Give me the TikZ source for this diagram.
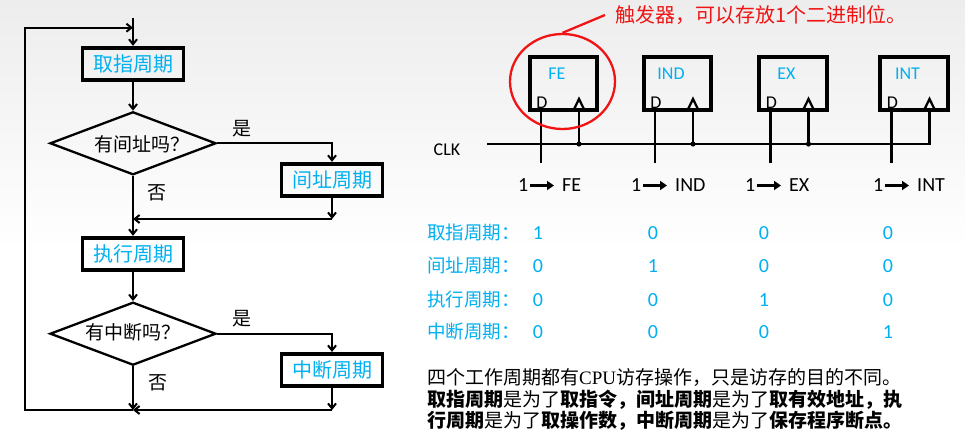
\documentclass[tikz,border=0pt]{standalone}
\usepackage{fontspec}
\setmainfont{Carlito}
\newfontfamily\cjk{Noto Sans CJK SC}
\newfontfamily\cpufont{Liberation Serif}
\usetikzlibrary{arrows.meta,shapes.geometric,calc}
\definecolor{lblue}{RGB}{0,176,240}
\definecolor{bggray}{RGB}{237,237,237}
\definecolor{redc}{RGB}{240,20,20}
\begin{document}
\begin{tikzpicture}[x=1pt,y=-1pt,
  flow/.style={draw,line width=3.7pt,minimum width=101pt,minimum height=32pt,inner sep=0pt,
    font=\cjk\fontsize{20}{20}\selectfont,text=lblue},
  dia/.style={draw,diamond,line width=2.3pt,minimum width=166pt,minimum height=63pt,inner sep=0pt},
  conn/.style={line width=2pt,-{Straight Barb[length=5pt,width=8pt]}},
  cjktxt/.style={inner sep=0pt,font=\cjk\fontsize{19}{19}\selectfont},
  ffbox/.style={draw,line width=3.7pt,minimum width=67.5pt,minimum height=53.5pt,inner sep=0pt},
  fflab/.style={inner sep=0pt,text=lblue,font=\fontsize{18}{18}\selectfont},
  dlab/.style={inner sep=0pt,font=\fontsize{18}{18}\selectfont},
  wire/.style={line width=2.3pt},
  outlab/.style={inner sep=0pt,anchor=west,font=\fontsize{20}{20}\selectfont},
  setarrow/.style={line width=2.6pt,-{Triangle[length=7pt,width=9pt]},shorten <=1.5pt,shorten >=8pt},
  tablab/.style={inner sep=0pt,anchor=west,text=lblue,font=\cjk\fontsize{18.5}{18.5}\selectfont},
  tabval/.style={inner sep=0pt,text=lblue,font=\fontsize{20}{20}\selectfont},
  para/.style={inner sep=0pt,anchor=west,font=\cjk\fontsize{19}{19}\selectfont}
]
\useasboundingbox (0,0) rectangle (965,446);
\fill[white] (0,0) rectangle (965,446);
\shade[top color=bggray,bottom color=white] (0,0) rectangle (965,250);

% ---------------- flowchart ----------------
\node[flow] (b1) at (133,63.7) {取指周期};
\node[dia] (d1) at (133,143.3) {};
\node[cjktxt] (d1t) at (142,144) {有间址吗？};
\node[flow] (b2) at (332,179.7) {间址周期};
\node[flow] (b3) at (133,253.7) {执行周期};
\node[dia] (d2) at (133,333.7) {};
\node[cjktxt] (d2t) at (132.5,332) {有中断吗？};
\node[flow] (b4) at (332,369.8) {中断周期};

\node[cjktxt] (yes1) at (241.7,128.3) {是};
\node[cjktxt] (no1) at (156.7,192.7) {否};
\node[cjktxt] (yes2) at (241.7,318.3) {是};
\node[cjktxt] (no2) at (158.3,382.7) {否};

\coordinate (start) at (133,18.3);
\coordinate (looptop) at (133,27.7);
\coordinate (looptl) at (25,27.7);
\coordinate (loopbl) at (25,410);
\coordinate (merge1) at (133,219);
\coordinate (c1) at (332,219);
\coordinate (y1) at (332,143.3);
\coordinate (y2) at (332,333.7);
\coordinate (c2) at (332,410);
\coordinate (merge2) at (133,410);

\draw[conn] (start) -- (b1.north);
\draw[conn] (merge2) -- (loopbl) -- (looptl) -- (looptop);
\draw[conn] (b1.south) -- (d1.north);
\draw[conn] (d1.east) -- (y1) -- (b2.north);
\draw[conn] (b2.south) -- (c1);
\draw[conn] (c1) -- (merge1);
\draw[conn] (d1.south) -- (b3.north);
\draw[conn] (b3.south) -- (d2.north);
\draw[conn] (d2.east) -- (y2) -- (b4.north);
\draw[conn] (b4.south) -- (c2);
\draw[conn] (c2) -- (merge2);
\draw[conn] (d2.south) -- (merge2);

% ---------------- flip-flops ----------------
\foreach \n/\cx/\lab in {fe/563.5/FE, ind/677.5/IND, ex/793/EX, int/914/INT}{
  \node[ffbox] (\n) at (\cx,83.5) {};
  \node[fflab] (\n-name) at (\cx-6.5,74) {\lab};
  \node[dlab] (\n-D) at (\cx-21.5,103) {D};
  \coordinate (\n-dtop) at (\cx-22.5,110.25);
  \coordinate (\n-dbot) at (\cx-22.5,163);
  \coordinate (\n-ctop) at (\cx+15.5,110.25);
  \coordinate (\n-clk) at (\cx+15.5,144);
  \draw[wire] (\n-dtop) -- (\n-dbot);
  \draw[wire] (\n-ctop) -- (\n-clk);
  \draw[wire,line join=miter] (\cx+10,110.25) -- (\cx+15.5,99) -- (\cx+21,110.25);
}
\coordinate (clkstart) at (487,144);
\draw[wire] (clkstart) -- (int-clk) -- (int-ctop);
\foreach \n in {fe,ind,ex}{\fill (\n-clk) circle (2.6);}
\node[dlab] (clk) at (447,150) {CLK};

% 1 -> X labels
\foreach \n/\sx/\lab in {fe/518/FE, ind/631/IND, ex/745/EX, int/873/INT}{
  \node[outlab] (\n-one) at (\sx,185.5) {1};
  \node[outlab] (\n-set) at (\sx+44,185.5) {\lab};
  \draw[setarrow] (\n-one.east) -- (\n-set.west);
}

% red callout
\node[draw=redc,ellipse,line width=2.3pt,minimum width=105pt,minimum height=95pt,inner sep=0pt] (ring) at (562.5,81.5) {};
\node[inner sep=0pt,anchor=west,text=redc,font=\cjk\fontsize{20}{20}\selectfont] (note) at (615,15) {触发器，可以存放1个二进制位。};
\draw[redc,line width=2.3pt] (ring.north) -- ([xshift=-10pt]note.west);

% ---------------- table ----------------
\node[tablab] (r1) at (427,233) {取指周期：};
\node[tablab] (r2) at (427,266) {间址周期：};
\node[tablab] (r3) at (427,300) {执行周期：};
\node[tablab] (r4) at (427,332) {中断周期：};
\foreach \y/\a/\b/\c/\d [count=\i] in {233/1/0/0/0, 266/0/1/0/0, 300/0/0/1/0, 332/0/0/0/1}{
  \node[tabval] (v\i a) at (538,\y) {\a};
  \node[tabval] (v\i b) at (653,\y) {\b};
  \node[tabval] (v\i c) at (764,\y) {\c};
  \node[tabval] (v\i d) at (888,\y) {\d};
}

% ---------------- paragraph ----------------
\node[para] (p1) at (427,377) {四个工作周期都有{\cpufont CPU}访存操作，只是访存的目的不同。};
\node[para] (p2) at (427,400) {\textbf{取指周期}是为了\textbf{取指令，间址周期}是为了\textbf{取有效地址，执}};
\node[para] (p3) at (427,421) {\textbf{行周期}是为了\textbf{取操作数，中断周期}是为了\textbf{保存程序断点。}};
\end{tikzpicture}
\end{document}
